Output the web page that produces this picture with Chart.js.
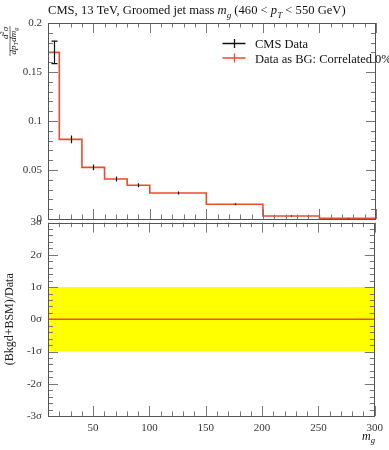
<!DOCTYPE html>
<html><head><meta charset="utf-8">
<script src="https://cdn.jsdelivr.net/npm/chart.js@4"></script>
<style>
html,body{margin:0;padding:0;background:#fff;width:389px;height:450px;overflow:hidden}
canvas{position:absolute;left:0}
#c1{top:0}
#c2{top:210px}
</style></head><body>
<canvas id="c1" width="389" height="232"></canvas>
<canvas id="c2" width="389" height="240"></canvas>
<script>
// ---- data ----
const binEdges   = [10, 20, 40, 60, 80, 100, 150, 200, 250, 300];
const dataValues = [0.170, 0.0813, 0.0527, 0.0408, 0.0344, 0.0265, 0.0150, 0.0031, 0.0007];
const dataErrors = [0.0115, 0.0040, 0.0030, 0.0025, 0.0020, 0.0015, 0.0010, 0.0005, 0.0003];
const bgValues   = [0.170, 0.0813, 0.0527, 0.0408, 0.0344, 0.0265, 0.0150, 0.0031, 0.0007];
const topTickLabels    = ['0', '0.05', '0.1', '0.15', '0.2'];
const bottomTickLabels = ['-3σ', '-2σ', '-1σ', '0σ', '1σ', '2σ', '3σ'];
const xTickLabels      = ['50', '100', '150', '200', '250', '300'];
const xMinorStep = 10, topMinorStep = 0.01, bottomMinorStep = 0.2;
const sigmaBand  = [-1, 1];
const ratioLine  = [0, 0];
const xRange     = [10, 300];
const legendLabels = ['CMS Data', 'Data as BG: Correlated 0%'];

const RED = '#ee4a2c';
const FONT = "'Liberation Serif', 'DejaVu Serif', serif";
Chart.defaults.font.family = FONT;
Chart.defaults.font.size = 11;
Chart.defaults.color = '#333';

function richText(ctx, segs, x, y, size, align) {
  let w = 0;
  const parts = segs.map(s => {
    const fs = (s.sub || s.sup) ? size * 0.72 : size;
    const font = (s.it ? 'italic ' : '') + fs + 'px ' + FONT;
    ctx.font = font;
    const ww = ctx.measureText(s.t).width;
    w += ww;
    return Object.assign({}, s, {font, ww});
  });
  let cx = align === 'center' ? x - w / 2 : align === 'right' ? x - w : x;
  ctx.textAlign = 'left';
  ctx.textBaseline = 'alphabetic';
  for (const p of parts) {
    ctx.font = p.font;
    const dy = p.sub ? size * 0.28 : p.sup ? -size * 0.4 : 0;
    ctx.fillText(p.t, cx, y + dy);
    cx += p.ww;
  }
  return w;
}

function tickList(lo, hi, step) {
  const out = [];
  const n = Math.round((hi - lo) / step);
  for (let i = 0; i <= n; i++) out.push(lo + i * step);
  return out;
}

function drawFrameAndTicks(chart, yMajor, yMinorStep) {
  const ctx = chart.ctx, a = chart.chartArea;
  const xs = chart.scales.x, ys = chart.scales.y;
  ctx.save();
  ctx.strokeStyle = '#777';
  ctx.lineWidth = 1;
  ctx.beginPath();
  const xMajor = xTickLabels.map(parseFloat);
  const xMinor = tickList(xRange[0], xRange[1], xMinorStep);
  const seg = (x1, y1, x2, y2) => { ctx.moveTo(x1, y1); ctx.lineTo(x2, y2); };
  for (const v of xMinor) {
    const major = xMajor.some(m => Math.abs(m - v) < 1e-6);
    const L = major ? 10 : 4.5;
    const px = Math.round(xs.getPixelForValue(v)) + 0.5;
    seg(px, a.top, px, a.top + L);
    seg(px, a.bottom, px, a.bottom - L);
  }
  const yMin = ys.min, yMax = ys.max;
  const yMinor = tickList(yMin, yMax, yMinorStep);
  for (const v of yMinor) {
    const major = yMajor.some(m => Math.abs(m - v) < 1e-6);
    const L = major ? 10 : 5;
    const py = Math.round(ys.getPixelForValue(v)) + 0.5;
    seg(a.left, py, a.left + L, py);
    seg(a.right, py, a.right - L, py);
  }
  ctx.stroke();
  ctx.strokeStyle = '#555';
  ctx.strokeRect(Math.round(a.left) + 0.5, Math.round(a.top) + 0.5,
                 Math.round(a.right - a.left) - 1, Math.round(a.bottom - a.top));
  ctx.restore();
}

const topPlugin = {
  id: 'topExtras',
  afterDatasetsDraw(chart) {
    const ctx = chart.ctx, xs = chart.scales.x, ys = chart.scales.y;
    ctx.save();
    ctx.strokeStyle = '#111';
    ctx.lineWidth = 1.2;
    ctx.beginPath();
    dataValues.forEach((v, i) => {
      const xc = (binEdges[i] + binEdges[i + 1]) / 2;
      const px = Math.round(xs.getPixelForValue(xc)) + 0.5;
      const y1 = ys.getPixelForValue(v - dataErrors[i]);
      const y2 = ys.getPixelForValue(v + dataErrors[i]);
      ctx.moveTo(px, y1); ctx.lineTo(px, y2);
      if (y1 - y2 > 8) {
        ctx.moveTo(px - 3, y1); ctx.lineTo(px + 3, y1);
        ctx.moveTo(px - 3, y2); ctx.lineTo(px + 3, y2);
      }
    });
    ctx.stroke();
    ctx.restore();
  },
  afterDraw(chart) {
    const ctx = chart.ctx;
    drawFrameAndTicks(chart, topTickLabels.map(parseFloat), topMinorStep);
    ctx.save();
    ctx.fillStyle = '#111';
    richText(ctx, [
      {t: 'CMS, 13 TeV, Groomed jet mass '}, {t: 'm', it: true}, {t: 'g', it: true, sub: true},
      {t: ' (460 < '}, {t: 'p', it: true}, {t: 'T', it: true, sub: true}, {t: ' < 550 GeV)'}
    ], 48, 14, 12.6, 'left');
    const rows = [{c: '#111', y: 43.5, tb: 48}, {c: RED, y: 58, tb: 62.5}];
    rows.forEach((r, i) => {
      ctx.strokeStyle = r.c;
      ctx.lineWidth = 1.3;
      ctx.beginPath();
      ctx.moveTo(222.5, r.y); ctx.lineTo(245.5, r.y);
      ctx.moveTo(234.5, r.y - 4.5); ctx.lineTo(234.5, r.y + 4.5);
      ctx.stroke();
      ctx.fillStyle = '#111';
      ctx.font = '12.5px ' + FONT;
      ctx.textAlign = 'left';
      ctx.textBaseline = 'alphabetic';
      ctx.fillText(legendLabels[i], 255, r.tb);
    });
    ctx.translate(10, 41);
    ctx.rotate(-Math.PI / 2);
    ctx.fillStyle = '#111';
    richText(ctx, [{t: 'd', it: true}, {t: '2', sup: true}, {t: 'σ', it: true}], 8, -2.5, 9, 'center');
    richText(ctx, [{t: 'dp', it: true}, {t: 'T', it: true, sub: true}, {t: 'dm', it: true}, {t: 'g', it: true, sub: true}], 0, 5.5, 9, 'center');
    ctx.strokeStyle = '#111';
    ctx.lineWidth = 0.6;
    ctx.beginPath();
    ctx.moveTo(-15, 0); ctx.lineTo(15, 0);
    ctx.stroke();
    ctx.restore();
  }
};

const bottomPlugin = {
  id: 'bottomExtras',
  afterDraw(chart) {
    const ctx = chart.ctx;
    drawFrameAndTicks(chart, bottomTickLabels.map(parseFloat), bottomMinorStep);
    ctx.save();
    ctx.fillStyle = '#111';
    richText(ctx, [{t: 'm', it: true}, {t: 'g', it: true, sub: true}], 375, 230, 12, 'right');
    ctx.restore();
  }
};

// ---- top panel ----
new Chart(document.getElementById('c1'), {
  type: 'line',
  data: {
    datasets: [{
      data: binEdges.map((e, i) => ({x: e, y: bgValues[Math.min(i, bgValues.length - 1)]})),
      stepped: 'before',
      borderColor: RED,
      borderWidth: 1.6,
      pointRadius: 0,
      fill: false
    }]
  },
  options: {
    responsive: false, animation: false, devicePixelRatio: 1,
    layout: {padding: {left: 0, right: 13, top: 23, bottom: 13}},
    plugins: {legend: {display: false}, title: {display: false}, tooltip: {enabled: false}},
    scales: {
      x: {type: 'linear', min: xRange[0], max: xRange[1], display: false},
      y: {
        type: 'linear', min: 0, max: 0.2,
        grid: {display: false, drawTicks: false}, border: {display: false},
        afterBuildTicks: s => { s.ticks = topTickLabels.map(l => ({value: parseFloat(l)})); },
        afterFit: s => { s.width = 48; },
        ticks: {padding: 6, color: '#333', font: {size: 11}, callback: (v, i) => topTickLabels[i]}
      }
    }
  },
  plugins: [topPlugin]
});

// ---- bottom panel ----
new Chart(document.getElementById('c2'), {
  type: 'line',
  data: {
    datasets: [
      {data: xRange.map((x, i) => ({x, y: ratioLine[i]})), borderColor: RED, borderWidth: 1.5, pointRadius: 0, fill: false},
      {data: xRange.map(x => ({x, y: sigmaBand[1]})), borderWidth: 0, pointRadius: 0, fill: false, borderColor: 'rgba(0,0,0,0)'},
      {data: xRange.map(x => ({x, y: sigmaBand[0]})), borderWidth: 0, pointRadius: 0, fill: '-1', backgroundColor: '#ffff00', borderColor: 'rgba(0,0,0,0)'}
    ]
  },
  options: {
    responsive: false, animation: false, devicePixelRatio: 1,
    layout: {padding: {left: 0, right: 13, top: 9, bottom: 0}},
    plugins: {legend: {display: false}, title: {display: false}, tooltip: {enabled: false}, filler: {propagate: false}},
    scales: {
      x: {
        type: 'linear', min: xRange[0], max: xRange[1],
        grid: {display: false, drawTicks: false}, border: {display: false},
        afterBuildTicks: s => { s.ticks = xTickLabels.map(l => ({value: parseFloat(l)})); },
        afterFit: s => { s.height = 34; },
        ticks: {padding: 6, color: '#333', font: {size: 11}, maxRotation: 0, autoSkip: false, callback: (v, i) => xTickLabels[i]}
      },
      y: {
        type: 'linear', min: -3, max: 3,
        grid: {display: false, drawTicks: false}, border: {display: false},
        afterBuildTicks: s => { s.ticks = bottomTickLabels.map(l => ({value: parseFloat(l)})); },
        afterFit: s => { s.width = 48; },
        title: {display: true, text: '(Bkgd+BSM)/Data', color: '#222', font: {size: 12}, padding: {top: 3, bottom: 0}},
        ticks: {padding: 6, color: '#333', font: {size: 11, style: 'normal'}, callback: (v, i) => bottomTickLabels[i]}
      }
    }
  },
  plugins: [bottomPlugin]
});
</script>
</body></html>
